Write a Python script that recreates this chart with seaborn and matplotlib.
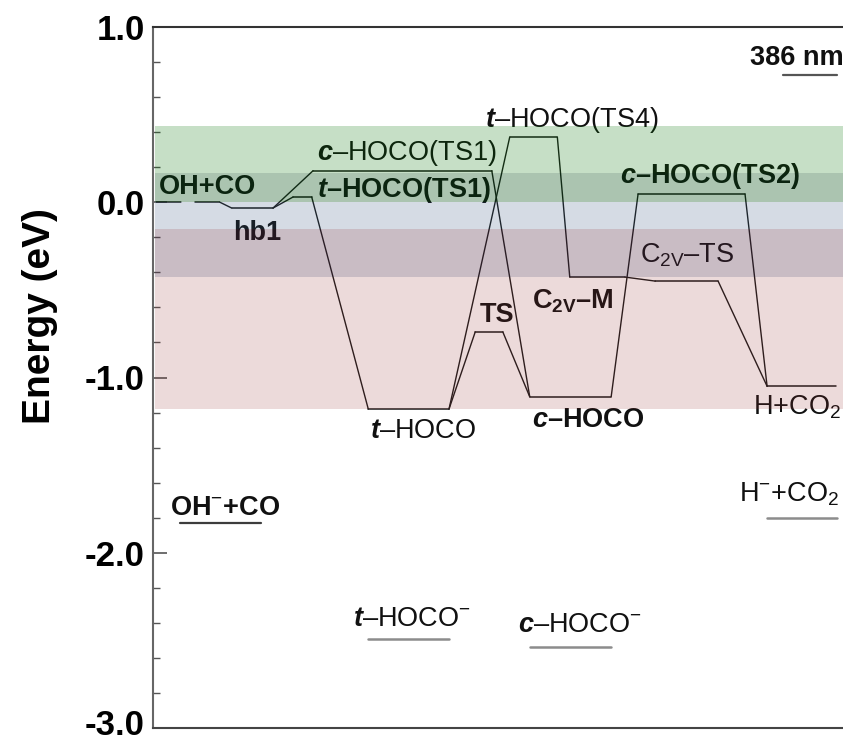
import matplotlib
matplotlib.use("Agg")
import matplotlib.pyplot as plt
import matplotlib.transforms as mtransforms
import numpy as np
import pandas as pd
import seaborn as sns
from matplotlib.ticker import MultipleLocator, FuncFormatter

# ---------------- data ----------------
# neutral stationary points: reaction-coordinate extent and energy (eV)
level_names = ["OH+CO", "hb1", "t-HOCO(TS1)", "c-HOCO(TS1)", "t-HOCO", "TS",
               "t-HOCO(TS4)", "c-HOCO", "C2v-M", "C2v-TS", "c-HOCO(TS2)", "H+CO2"]
level_start = [0.04, 1.14, 2.03, 2.32, 3.12, 4.67, 5.17, 5.46, 6.04, 7.28, 7.03, 8.90]
level_end = [0.97, 1.74, 2.30, 4.91, 4.29, 5.07, 5.86, 6.64, 6.84, 8.19, 8.58, 9.90]
level_energy = [0.00, -0.033, 0.03, 0.18, -1.18, -0.74, 0.372, -1.11, -0.427, -0.45, 0.047, -1.05]

# reaction paths (sequences of connected levels)
paths = [
    ["OH+CO", "hb1", "t-HOCO(TS1)", "t-HOCO", "t-HOCO(TS4)", "C2v-M", "C2v-TS", "H+CO2"],
    ["hb1", "c-HOCO(TS1)", "c-HOCO", "c-HOCO(TS2)", "H+CO2"],
    ["t-HOCO", "TS", "c-HOCO"],
]

# anion levels
anion_names = ["OH-+CO", "t-HOCO-", "c-HOCO-", "H-+CO2"]
anion_start = [0.39, 3.12, 5.46, 8.90]
anion_end = [1.57, 4.29, 6.64, 9.91]
anion_energy = [-1.83, -2.49, -2.54, -1.80]

# photon marker
photon_start = [9.13]
photon_end = [9.91]
photon_energy = [0.726]

# shaded energy regions
band_top = [0.435, 0.167, 0.0, -0.153, -0.427]
band_bottom = [0.167, 0.0, -0.153, -0.427, -1.18]
band_rgb = [(194, 223, 193), (158, 196, 176), (213, 220, 228), (201, 188, 196), (236, 219, 219)]

# labels
label_text = {
    "OH+CO": "OH+CO",
    "hb1": "hb1",
    "t-HOCO(TS1)": r"$\mathit{t}$–HOCO(TS1)",
    "c-HOCO(TS1)": r"$\mathit{c}$–HOCO(TS1)",
    "t-HOCO": r"$\mathit{t}$–HOCO",
    "TS": "TS",
    "t-HOCO(TS4)": r"$\mathit{t}$–HOCO(TS4)",
    "c-HOCO": r"$\mathit{c}$–HOCO",
    "C2v-M": r"C$_{\mathdefault{2V}}$–M",
    "C2v-TS": r"C$_{\mathdefault{2V}}$–TS",
    "c-HOCO(TS2)": r"$\mathit{c}$–HOCO(TS2)",
    "H+CO2": r"H+CO$_{\mathdefault{2}}$",
    "OH-+CO": r"OH$^{-}$+CO",
    "t-HOCO-": r"$\mathit{t}$–HOCO$^{-}$",
    "c-HOCO-": r"$\mathit{c}$–HOCO$^{-}$",
    "H-+CO2": r"H$^{-}$+CO$_{\mathdefault{2}}$",
    "386 nm": "386 nm",
}
# (dx px, dy px, weight) relative to left end of the level
label_style = {
    "OH+CO": (3, 8, "bold"),
    "hb1": (1, -32, "bold"),
    "t-HOCO(TS1)": (24, 0, "bold"),
    "c-HOCO(TS1)": (4, 11, "normal"),
    "t-HOCO": (2, -29, "normal"),
    "TS": (5, 10, "bold"),
    "t-HOCO(TS4)": (-25, 10, "normal"),
    "c-HOCO": (2, -30, "bold"),
    "C2v-M": (-38, -31, "bold"),
    "C2v-TS": (-15, 19, "normal"),
    "c-HOCO(TS2)": (-18, 11, "bold"),
    "H+CO2": (-14, -28, "normal"),
    "OH-+CO": (-10, 8, "bold"),
    "t-HOCO-": (-15, 13, "normal"),
    "c-HOCO-": (-12, 15, "normal"),
    "H-+CO2": (-28, 16, "normal"),
    "386 nm": (-33, 10, "bold"),
}

# ---------------- style ----------------
sns.set_theme(style="white")
plt.rcParams["font.family"] = ["Liberation Sans", "DejaVu Sans"]
plt.rcParams["mathtext.fontset"] = "custom"
plt.rcParams["mathtext.rm"] = "Liberation Sans"
plt.rcParams["mathtext.it"] = "Liberation Sans:italic:bold"
plt.rcParams["mathtext.bf"] = "Liberation Sans:bold"
plt.rcParams["axes.unicode_minus"] = False

fig = plt.figure(figsize=(8.43, 7.41), dpi=100)
ax = fig.add_axes([153 / 843, 13 / 741, 690 / 843, 701 / 741])

lv = pd.DataFrame({"name": level_names, "x0": level_start, "x1": level_end, "E": level_energy}).set_index("name")

# connectors between levels
rows = []
seg = 0
for p in paths:
    for a, b in zip(p[:-1], p[1:]):
        rows.append({"seg": seg, "x": lv.loc[a, "x1"], "E": lv.loc[a, "E"]})
        rows.append({"seg": seg, "x": lv.loc[b, "x0"], "E": lv.loc[b, "E"]})
        seg += 1
conn = pd.DataFrame(rows)
sns.lineplot(data=conn, x="x", y="E", units="seg", estimator=None, sort=False,
             color="#1a1a1a", lw=1.0, ax=ax, legend=False, zorder=2)

# level lines
lv_rows = []
for i, n in enumerate(level_names):
    if n == "OH+CO":
        continue
    lv_rows.append({"seg": i, "x": level_start[i], "E": level_energy[i]})
    lv_rows.append({"seg": i, "x": level_end[i], "E": level_energy[i]})
lvdf = pd.DataFrame(lv_rows)
sns.lineplot(data=lvdf, x="x", y="E", units="seg", estimator=None, sort=False,
             color="#1a1a1a", lw=1.1, ax=ax, legend=False, zorder=2)
i0 = level_names.index("OH+CO")
sns.lineplot(x=[level_start[i0], level_end[i0]], y=[level_energy[i0]] * 2,
             color="#1a1a1a", lw=1.1, ax=ax, linestyle=(0, (16.6, 8.6, 30, 10)), zorder=2)

# anion levels
an_rows = []
for i in range(len(anion_names)):
    an_rows.append({"seg": i, "x": anion_start[i], "E": anion_energy[i]})
    an_rows.append({"seg": i, "x": anion_end[i], "E": anion_energy[i]})
andf = pd.DataFrame(an_rows)
sns.lineplot(data=andf[andf.seg > 0], x="x", y="E", units="seg", estimator=None, sort=False,
             color="#8c8c8c", lw=1.8, ax=ax, legend=False, zorder=2)
sns.lineplot(data=andf[andf.seg == 0], x="x", y="E", units="seg", estimator=None, sort=False,
             color="#3c3c3c", lw=1.6, ax=ax, legend=False, zorder=2)
sns.lineplot(x=[photon_start[0], photon_end[0]], y=[photon_energy[0]] * 2,
             color="#555555", lw=1.6, ax=ax, zorder=2)

# labels
anchors = {n: (level_start[i], level_energy[i]) for i, n in enumerate(level_names)}
anchors.update({n: (anion_start[i], anion_energy[i]) for i, n in enumerate(anion_names)})
anchors["386 nm"] = (photon_start[0], photon_energy[0])
for key, txt in label_text.items():
    dx, dy, w = label_style[key]
    ax.annotate(txt, xy=anchors[key], xytext=(dx * 0.72, dy * 0.72), textcoords="offset points",
                ha="left", va="baseline", fontsize=19.5, fontweight=w, color="#111111", zorder=3)

# shaded regions drawn on top (tinting text and lines beneath)
for top, bot, rgb in zip(band_top, band_bottom, band_rgb):
    t = np.array(rgb, dtype=float)
    alpha = 1 - (t.max() - 25) / 255.0
    c = (t - (1 - alpha) * 255) / alpha
    c = np.clip(c / 255.0, 0, 1)
    ax.axhspan(bot, top, xmin=0.003, xmax=1, color=tuple(c), alpha=alpha, lw=0, zorder=4)

# axes
ax.set_xlim(0, 10)
ax.set_ylim(-3.0, 1.0)
ax.set_xticks([])
ax.set_xlabel("")
ax.yaxis.set_major_locator(MultipleLocator(1.0))
ax.yaxis.set_minor_locator(MultipleLocator(0.2))
ax.yaxis.set_major_formatter(FuncFormatter(lambda v, p: f"{v:.1f}"))
ax.tick_params(axis="y", which="major", direction="in", length=10, width=1.2, color="#555555",
               labelsize=25, pad=6, left=True, labelcolor="black")
ax.tick_params(axis="y", which="minor", direction="in", length=5, width=1.0, color="#555555", left=True)
ax.set_ylabel("Energy (eV)", fontsize=28, fontweight="bold", color="black")
ax.yaxis.set_label_coords(-0.138, 0.588)

fig.canvas.draw()
for tick in ax.yaxis.get_major_ticks():
    lbl = tick.label1
    lbl.set_fontweight("bold")
    if abs(tick.get_loc() - ax.get_ylim()[0]) < 1e-6:
        lbl.set_transform(lbl.get_transform() +
                          mtransforms.ScaledTranslation(0, 6 / 100, fig.dpi_scale_trans))

for s in ["left", "top", "bottom"]:
    ax.spines[s].set_visible(True)
    ax.spines[s].set_linewidth(1.5)
ax.spines["left"].set_color("#666666")
ax.spines["top"].set_color("#333333")
ax.spines["bottom"].set_color("#444444")
ax.spines["right"].set_visible(False)

fig.savefig("out.png", dpi=100)
